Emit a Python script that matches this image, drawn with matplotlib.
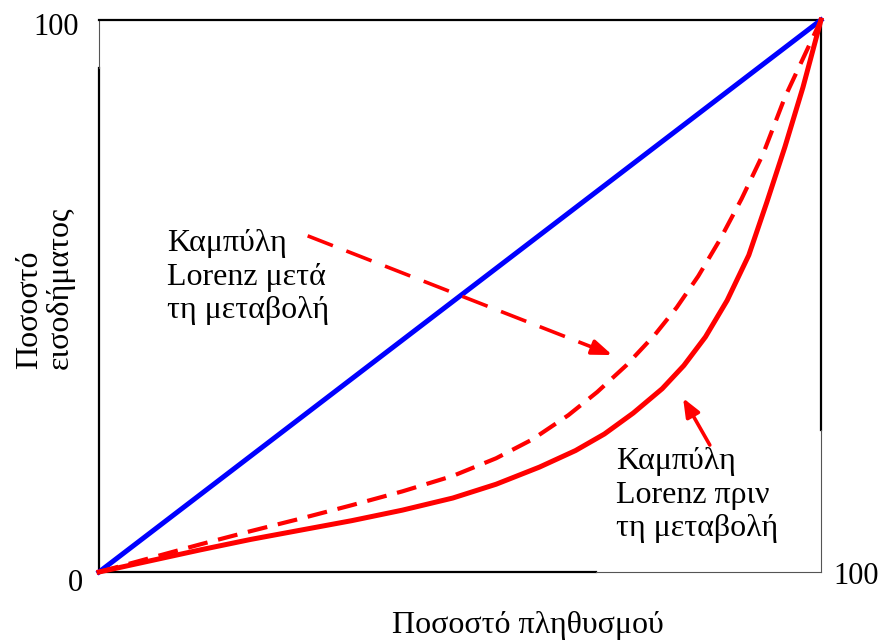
import matplotlib
matplotlib.use("Agg")
import matplotlib.pyplot as plt

plt.rcParams['font.family'] = ['Liberation Serif', 'DejaVu Serif']

# ---- data ----
equality_x = [0, 100]
equality_y = [0, 100]

before_x = [0, 7, 14, 21, 28, 35, 42, 49, 55, 61, 66, 70, 74, 78, 81, 84, 87,
            90, 92.5, 95, 97.5, 100]
before_y = [0, 2.0, 4.0, 5.9, 7.6, 9.3, 11.2, 13.4, 15.9, 19.0, 22.0, 25.0,
            28.8, 33.2, 37.4, 42.6, 49.2, 57.4, 67.0, 77.0, 87.8, 100]

after_x = [0, 7, 14, 21, 28, 35, 42, 49, 55, 60, 65, 69, 73, 77, 80, 83, 86,
           89, 92, 95, 97.5, 100]
after_y = [0, 2.5, 5.0, 7.4, 9.7, 12.1, 14.6, 17.4, 20.6, 24.0, 28.4, 32.6,
           37.4, 43.0, 47.9, 53.6, 60.2, 67.6, 75.8, 86.0, 93.0, 100]

corner_labels = ["0", "100", "100"]
xlabel = "Ποσοστό πληθυσμού"
ylabel = "Ποσοστό\nεισοδήματος"
label_after = "Καμπύλη\nLorenz μετά\nτη μεταβολή"
label_before = "Καμπύλη\nLorenz πριν\nτη μεταβολή"

# arrows: (tail, tip)
arrow_after = ((28.9, 60.9), (71.1, 39.3))
arrow_before = ((84.6, 23.0), (80.9, 31.5))

W, H = 881, 641
fig = plt.figure(figsize=(W / 100, H / 100), dpi=100)
ax = fig.add_axes([99 / W, 1 - 572 / H, (821 - 99) / W, (572 - 20) / H])
ax.set_xlim(0, 100)
ax.set_ylim(0, 100)
ax.set_xticks([])
ax.set_yticks([])
for s in ax.spines.values():
    s.set_visible(False)

# frame (thick black parts, thin grey parts)
kw_thick = dict(color='black', lw=1.6, clip_on=False, zorder=2, solid_capstyle='projecting')
kw_thin = dict(color='#555555', lw=0.8, clip_on=False, zorder=2)
ax.plot([0, 0], [0, 91.3], **kw_thick)
ax.plot([0, 0], [91.3, 100], **kw_thin)
ax.plot([0, 100], [100, 100], **kw_thick)
ax.plot([100, 100], [25.7, 100], **kw_thick)
ax.plot([100, 100], [0, 25.7], **kw_thin)
ax.plot([0, 68.8], [0, 0], **kw_thick)
ax.plot([68.8, 100], [0, 0], **kw_thin)

# curves
ax.plot(equality_x, equality_y, color='#0000ff', lw=3.6, zorder=3, clip_on=False)
ax.plot(before_x, before_y, color='#ff0000', lw=3.6, zorder=3, clip_on=False,
        solid_joinstyle='round')
ax.plot(after_x, after_y, color='#ff0000', lw=3.0, zorder=3, clip_on=False,
        linestyle=(0, (4.8, 2.6)))

# dashed arrow
(t0, t1) = arrow_after
fr = 0.93
mid = (t0[0] + (t1[0] - t0[0]) * fr, t0[1] + (t1[1] - t0[1]) * fr)
ax.plot([t0[0], mid[0]], [t0[1], mid[1]], color='#ff0000', lw=2.6,
        linestyle=(0, (7.5, 4)), zorder=4)
ax.annotate('', xy=t1, xytext=mid,
            arrowprops=dict(arrowstyle='-|>,head_length=1.2,head_width=0.45',
                            color='#ff0000', lw=2.6, shrinkA=0, shrinkB=0), zorder=4)

# solid arrow
(s0, s1) = arrow_before
ax.annotate('', xy=s1, xytext=s0,
            arrowprops=dict(arrowstyle='-|>,head_length=1.1,head_width=0.45',
                            color='#ff0000', lw=2.6, shrinkA=0, shrinkB=0), zorder=4)

# text labels
ax.text(9.4, 62.1, label_after, fontsize=23, ha='left', va='top', zorder=5,
        linespacing=1.2)
ax.text(71.6, 22.6, label_before, fontsize=23, ha='left', va='top', zorder=5,
        linespacing=1.2)

# corner labels
ax.text(-3.2, -2.0, corner_labels[0], fontsize=22, ha='center', va='center', clip_on=False)
ax.text(-2.8, 98.7, corner_labels[1], fontsize=22, ha='right', va='center', clip_on=False)
ax.text(101.7, -0.9, corner_labels[2], fontsize=22, ha='left', va='center', clip_on=False)

fig.text(528 / W, 1 - 633 / H, xlabel, fontsize=23, ha='center', va='baseline')
fig.text(45 / W, 1 - 288 / H, ylabel, fontsize=23, ha='center', va='center',
         rotation=90, multialignment='left', linespacing=1.1)

fig.savefig('out.png', dpi=100)
